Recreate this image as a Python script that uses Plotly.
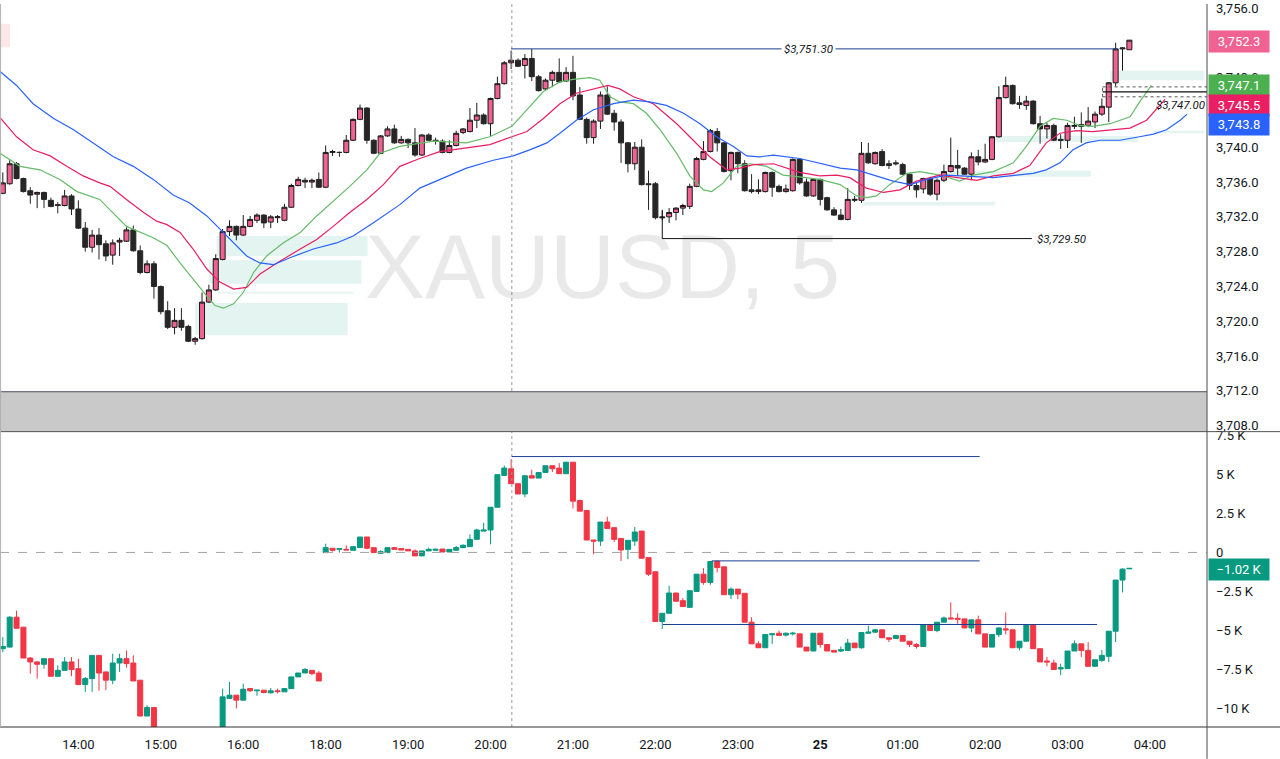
import plotly.graph_objects as go

# ---------------- data (5-minute bars, index 0 = 13:05) ----------------
bars = list(range(165))

price_open = [3734.7,3735.8,3738.1,3736.4,3735.0,3734.6,3734.8,3733.9,3733.4,3733.3,
 3734.4,3732.9,3730.7,3728.5,3729.9,3728.9,3727.6,3729.1,3729.2,3730.5,
 3728.1,3725.6,3726.6,3724.0,3721.2,3719.3,3720.1,3719.4,3717.7,3718.0,
 3722.2,3723.6,3727.1,3730.3,3730.9,3729.9,3730.9,3731.6,3732.2,3731.4,
 3731.9,3731.6,3733.1,3735.6,3736.2,3736.0,3736.3,3735.4,3739.4,3739.4,
 3739.4,3740.8,3743.2,3744.5,3740.8,3739.3,3741.3,3742.1,3740.5,3740.9,
 3740.5,3739.1,3741.4,3740.8,3740.7,3739.4,3740.2,3741.7,3741.8,3743.1,
 3743.7,3742.7,3745.6,3747.3,3749.7,3750.0,3749.4,3750.2,3748.1,3746.7,
 3747.7,3748.6,3747.6,3748.6,3746.0,3743.2,3741.1,3743.0,3746.0,3743.9,
 3742.9,3740.5,3738.1,3740.0,3735.8,3735.8,3732.0,3732.0,3732.5,3733.0,
 3733.2,3735.5,3738.6,3739.5,3741.8,3740.5,3737.3,3739.4,3738.1,3735.1,
 3734.9,3734.9,3737.1,3735.5,3734.9,3735.0,3738.6,3736.0,3734.4,3736.3,
 3734.2,3732.8,3732.2,3731.7,3733.9,3733.9,3739.3,3738.1,3739.5,3738.1,
 3738.2,3738.0,3736.9,3735.6,3735.2,3736.4,3734.6,3736.2,3737.2,3737.9,
 3737.6,3736.9,3738.9,3738.3,3738.6,3741.2,3745.7,3747.1,3745.1,3744.8,
 3745.3,3742.7,3742.1,3742.5,3740.9,3740.8,3742.4,3742.6,3742.5,3742.9,
 3743.8,3744.6,3747.4,3751.3,3751.2]
price_high = [3737.1,3738.5,3738.3,3736.5,3735.4,3734.9,3734.9,3734.2,3733.7,3735.1,
 3734.6,3733.9,3731.4,3730.5,3730.7,3729.3,3729.4,3729.6,3730.8,3731.0,
 3728.7,3727.0,3726.9,3724.1,3722.3,3721.5,3721.5,3719.6,3718.2,3723.3,
 3724.2,3727.7,3730.6,3731.6,3731.0,3732.2,3732.1,3732.4,3732.3,3732.2,
 3732.2,3733.5,3735.8,3736.6,3736.5,3736.4,3737.1,3740.2,3739.7,3739.5,
 3741.4,3743.3,3744.9,3744.6,3740.9,3741.4,3742.4,3742.6,3741.3,3741.0,
 3742.2,3741.5,3741.6,3741.1,3740.9,3740.8,3741.9,3742.2,3744.5,3745.1,
 3743.9,3745.7,3748.1,3749.9,3751.1,3750.2,3750.7,3751.3,3748.3,3747.9,
 3748.8,3750.2,3749.2,3750.5,3746.9,3743.4,3743.2,3746.4,3747.0,3744.3,
 3743.2,3740.6,3740.6,3740.9,3737.3,3736.0,3732.7,3733.0,3733.1,3733.5,
 3735.8,3738.9,3740.7,3742.1,3742.2,3740.6,3739.5,3739.5,3738.5,3736.9,
 3736.3,3737.2,3737.2,3735.7,3735.7,3738.7,3738.7,3736.4,3736.4,3736.4,
 3734.3,3733.1,3732.9,3735.3,3734.4,3740.6,3740.5,3739.5,3739.8,3738.5,
 3738.5,3738.2,3737.0,3735.9,3736.5,3736.6,3736.4,3738.0,3741.1,3739.7,
 3737.7,3739.4,3739.7,3740.4,3741.3,3747.0,3748.1,3747.2,3745.9,3745.9,
 3745.4,3743.6,3742.8,3742.7,3741.5,3742.8,3743.5,3744.0,3744.6,3744.1,
 3745.6,3747.5,3752.0,3751.5,3752.3]
price_low = [3734.6,3735.7,3736.3,3734.8,3733.5,3733.0,3733.0,3733.1,3732.4,3733.2,
 3732.2,3730.6,3728.0,3727.9,3727.1,3726.9,3726.5,3727.5,3729.1,3728.0,
 3725.4,3725.5,3722.6,3720.8,3719.1,3718.5,3718.9,3717.6,3717.3,3717.9,
 3722.1,3723.5,3727.0,3729.8,3729.3,3729.8,3730.8,3731.3,3730.7,3730.7,
 3731.3,3731.5,3733.0,3735.5,3735.3,3735.3,3735.3,3735.3,3739.0,3738.9,
 3739.3,3740.7,3743.1,3740.4,3739.2,3739.2,3741.2,3740.4,3740.4,3739.9,
 3738.9,3739.0,3740.7,3740.3,3739.3,3739.3,3740.1,3741.5,3741.7,3742.2,
 3742.6,3741.3,3745.5,3747.2,3749.0,3749.2,3747.9,3747.6,3746.4,3746.5,
 3746.9,3747.4,3747.5,3745.4,3743.1,3740.4,3740.4,3742.1,3743.7,3741.9,
 3738.2,3737.1,3737.4,3735.6,3732.8,3731.7,3731.6,3731.3,3731.6,3732.2,
 3732.9,3735.4,3738.5,3739.4,3739.5,3737.1,3736.2,3737.0,3734.9,3734.7,
 3734.6,3734.8,3734.3,3734.8,3734.8,3734.9,3735.7,3734.3,3734.3,3733.3,
 3732.7,3732.1,3731.6,3731.6,3733.7,3733.6,3738.1,3738.0,3737.8,3737.5,
 3737.9,3736.8,3735.1,3734.2,3734.7,3734.4,3733.9,3736.0,3737.1,3736.7,
 3736.8,3736.2,3737.9,3738.2,3738.5,3741.1,3745.6,3744.9,3744.4,3744.3,
 3742.6,3740.4,3741.0,3740.7,3739.8,3739.9,3742.1,3740.5,3742.3,3742.2,
 3743.6,3742.9,3747.0,3748.8,3751.2]
price_close = [3735.9,3738.1,3736.4,3734.9,3734.5,3734.8,3734.0,3733.2,3733.3,3734.4,
 3732.9,3730.7,3728.5,3729.9,3728.8,3727.5,3729.0,3729.3,3730.5,3728.1,
 3725.6,3726.6,3724.0,3721.1,3719.3,3720.1,3719.3,3717.7,3718.0,3722.2,
 3723.6,3727.2,3730.3,3730.9,3729.9,3730.9,3731.7,3732.2,3731.3,3732.0,
 3732.0,3733.1,3735.6,3736.3,3736.0,3736.2,3735.4,3739.4,3739.5,3739.4,
 3740.8,3743.2,3744.5,3740.8,3739.3,3741.3,3742.1,3740.5,3740.9,3740.5,
 3739.1,3741.4,3740.8,3740.7,3739.4,3740.2,3741.6,3742.1,3743.1,3743.7,
 3742.7,3745.6,3747.3,3749.7,3750.0,3749.3,3750.2,3748.1,3746.5,3747.7,
 3748.6,3747.5,3748.6,3745.9,3743.2,3741.1,3743.0,3746.0,3743.8,3742.9,
 3740.5,3738.1,3740.0,3735.7,3735.7,3731.9,3731.9,3732.5,3733.0,3733.3,
 3735.5,3738.7,3739.5,3741.9,3740.5,3737.2,3739.4,3738.1,3735.0,3734.9,
 3735.1,3737.1,3735.4,3734.9,3735.2,3738.6,3735.9,3734.4,3736.3,3734.0,
 3732.8,3732.2,3731.7,3734.0,3734.0,3739.3,3738.2,3739.4,3737.9,3737.9,
 3738.1,3736.9,3735.6,3735.1,3736.4,3734.6,3736.2,3737.2,3737.9,3737.6,
 3736.9,3738.9,3738.3,3738.6,3741.2,3745.7,3747.1,3745.0,3744.9,3745.3,
 3742.7,3742.1,3742.5,3740.8,3740.8,3742.5,3742.5,3742.4,3743.0,3743.8,
 3744.7,3747.4,3751.3,3751.4,3752.3]

N = None
delta_open = [-6.17,-6.07,-4.15,-4.79,-6.77,-7.02,-7.17,-6.81,-7.94,-7.56,
 -7.02,-7.45,-8.47,-8.09,-6.60,-7.66,-8.19,-7.09,-6.81,-7.09,
 -8.19,-10.49,-9.94,N,N,N,N,N,N,N,
 N,N,-12.0,-9.36,-9.15,-9.47,-8.73,-8.87,-8.83,-9.00,
 -8.87,-8.94,-8.73,-7.98,-7.73,-7.56,-7.73,-0.01,0.27,0.20,
 0.20,0.14,0.31,0.99,0.31,-0.05,-0.01,0.31,0.25,0.20,
 0.10,-0.22,0.10,0.14,0.22,0.03,0.14,0.31,0.37,0.84,
 1.37,1.44,2.90,4.94,5.37,4.41,3.75,4.92,4.77,5.13,
 5.56,5.41,5.05,5.79,3.33,2.69,0.80,0.73,1.95,1.59,
 0.90,0.20,0.73,1.37,-0.33,-1.24,-4.43,-3.90,-2.60,-3.09,
 -3.52,-2.50,-1.39,-1.92,-0.58,-0.92,-2.71,-2.35,-2.62,-4.47,
 -5.86,-6.11,-5.28,-5.18,-5.30,-5.22,-5.22,-6.07,-6.32,-5.18,
 -5.90,-6.28,-6.32,-6.28,-5.81,-6.11,-5.18,-5.11,-4.96,-5.47,
 -5.52,-5.32,-5.69,-5.90,-6.03,-4.62,-5.01,-4.47,-4.20,-4.22,
 -4.26,-4.84,-4.32,-5.22,-6.07,-5.26,-4.90,-4.96,-6.11,-5.69,
 -4.62,-6.17,-6.96,-7.09,-7.47,-7.45,-6.32,-5.86,-6.28,-7.30,
 -6.92,-6.66,-5.05,-1.77,-1.05]
delta_high = [-5.43,-4.09,-3.73,-4.79,-6.71,-6.98,-6.81,-6.81,-7.24,-6.71,
 -6.71,-6.81,-7.98,-6.60,-6.60,-7.66,-6.49,-6.49,-6.28,-6.60,
 -8.19,-9.79,-9.94,N,N,N,N,N,N,N,
 N,N,-8.73,-8.30,-9.15,-8.41,-8.69,-8.83,-8.83,-8.69,
 -8.73,-8.73,-7.98,-7.73,-7.41,-7.56,-7.60,0.56,0.27,0.25,
 0.46,0.41,0.99,0.99,0.31,0.14,0.31,0.31,0.25,0.20,
 0.20,0.10,0.31,0.25,0.22,0.20,0.41,0.52,1.16,1.52,
 1.90,2.90,4.99,5.58,5.99,4.41,4.92,5.30,5.13,5.56,
 5.56,5.73,5.79,5.79,3.39,2.69,0.80,1.95,2.29,1.59,
 0.90,0.78,1.63,1.37,-0.33,-1.24,-3.90,-2.14,-2.60,-2.92,
 -2.45,-1.39,-1.01,-0.58,-0.50,-0.92,-2.24,-2.35,-2.62,-4.15,
 -5.69,-5.26,-5.22,-5.01,-5.13,-5.09,-5.22,-6.07,-5.18,-5.18,
 -5.90,-6.28,-6.03,-5.54,-5.81,-5.13,-4.69,-4.90,-4.96,-5.47,
 -5.32,-5.32,-5.69,-5.81,-4.62,-4.62,-4.47,-4.11,-3.20,-3.90,
 -4.26,-4.32,-4.05,-5.22,-5.26,-4.79,-3.84,-4.96,-5.69,-4.62,
 -4.62,-6.17,-6.71,-6.88,-7.13,-6.32,-5.64,-5.86,-5.75,-6.88,
 -6.24,-5.05,-1.77,-1.01,-1.00]
delta_low = [-6.39,-6.07,-4.86,-6.77,-7.77,-8.09,-7.45,-7.94,-7.94,-7.56,
 -7.94,-8.47,-8.94,-8.94,-8.87,-8.83,-8.45,-7.66,-7.39,-8.24,
 -10.49,-10.49,-12.0,N,N,N,N,N,N,N,
 N,N,-12.0,-9.36,-10.0,-9.47,-8.94,-9.19,-9.04,-9.04,
 -9.04,-8.94,-8.73,-7.98,-7.73,-7.87,-8.24,-0.01,0.05,-0.01,
 0.16,0.14,0.31,0.20,-0.01,-0.07,-0.01,0.20,0.16,0.10,
 -0.22,-0.22,0.10,0.10,0.03,0.03,0.14,0.27,0.37,0.84,
 1.37,0.52,2.90,4.94,4.41,3.75,3.54,4.77,4.77,5.13,
 5.16,5.05,5.05,2.82,2.65,0.80,-0.12,0.42,1.54,0.67,
 -0.54,-0.43,0.42,-0.37,-1.50,-4.43,-4.90,-3.90,-3.13,-3.47,
 -3.52,-2.50,-2.07,-2.07,-1.28,-2.71,-2.99,-2.99,-4.47,-5.86,
 -6.11,-6.11,-5.86,-5.32,-5.39,-5.32,-6.07,-6.32,-6.32,-6.11,
 -6.32,-6.39,-6.39,-6.28,-6.11,-6.17,-5.18,-5.15,-5.47,-5.75,
 -5.52,-5.69,-6.07,-6.17,-6.03,-5.01,-5.11,-4.47,-4.26,-4.58,
 -4.84,-5.11,-5.22,-6.07,-6.07,-5.43,-5.26,-6.11,-6.28,-5.69,
 -6.17,-7.02,-7.30,-7.51,-7.87,-7.45,-6.32,-6.71,-7.30,-7.30,
 -7.02,-7.02,-5.75,-2.56,-1.05]
delta_close = [-6.03,-4.15,-4.86,-6.77,-7.02,-7.17,-6.81,-7.94,-7.56,-7.02,
 -7.51,-8.47,-8.09,-6.60,-7.73,-8.19,-7.09,-6.81,-7.13,-8.24,
 -10.49,-9.94,-12.0,N,N,N,N,N,N,N,
 N,N,-9.26,-9.15,-9.47,-8.77,-8.87,-8.83,-8.98,-8.87,
 -8.92,-8.73,-7.98,-7.73,-7.51,-7.77,-8.24,0.31,0.14,0.25,
 0.16,0.37,0.99,0.27,-0.01,0.05,0.31,0.20,0.16,0.10,
 -0.22,0.10,0.20,0.20,0.03,0.20,0.31,0.46,0.84,1.44,
 1.44,2.90,4.99,5.41,4.41,3.75,4.92,4.77,5.13,5.56,
 5.37,5.05,5.79,3.29,2.65,0.80,0.73,1.95,1.54,0.84,
 0.16,0.78,1.31,-0.37,-1.39,-4.43,-3.90,-2.60,-3.13,-3.47,
 -2.45,-1.39,-1.92,-0.58,-0.97,-2.71,-2.35,-2.67,-4.47,-5.86,
 -6.11,-5.26,-5.22,-5.32,-5.18,-5.18,-6.07,-6.32,-5.18,-5.90,
 -6.32,-6.39,-6.24,-5.81,-6.11,-5.13,-5.11,-4.96,-5.47,-5.56,
 -5.32,-5.69,-5.90,-6.03,-4.62,-5.01,-4.47,-4.20,-4.26,-4.28,
 -4.84,-4.32,-5.22,-6.07,-5.26,-4.84,-4.96,-6.11,-5.69,-4.62,
 -6.17,-7.02,-7.02,-7.51,-7.39,-6.32,-5.86,-6.28,-7.30,-6.88,
 -6.60,-5.05,-1.77,-1.07,-1.02]

# Alligator-style moving averages (bar position, price)
lips_bar = [-0.4,2.5,5.4,8.3,10.8,14.1,15.6,18.0,21.9,23.9,25.8,27.7,29.7,30.9,32.1,33.6,35.0,36.5,38.4,40.8,
 43.3,45.7,48.1,50.5,53.0,54.9,57.8,62.7,67.5,70.9,74.1,76.3,78.7,81.1,83.0,85.5,86.9,88.4,89.8,91.8,
 93.7,95.7,98.1,100.0,102.0,103.2,104.9,106.8,108.8,111.2,113.6,116.0,118.9,121.9,124.3,125.8,127.2,129.1,131.6,133.5,
 136.4,139.3,141.3,144.2,147.1,149.0,151.0,152.9,154.9,156.8,158.7,161.2,164.1,165.5,167.2]
lips_val = [3739.3,3737.8,3737.4,3736.3,3734.9,3734.0,3732.8,3730.9,3729.6,3728.7,3726.7,3724.8,3722.9,3721.8,3721.5,3722.0,3723.3,3725.6,3727.5,3729.0,
 3730.2,3732.1,3733.8,3735.5,3737.4,3739.3,3740.1,3740.7,3740.5,3741.2,3742.4,3744.3,3746.4,3747.5,3747.8,3748.0,3747.7,3745.8,3745.2,3745.0,
 3743.9,3742.0,3739.3,3736.7,3735.1,3734.9,3735.9,3737.8,3738.1,3737.8,3736.8,3736.6,3736.3,3735.7,3734.4,3734.2,3734.4,3735.7,3737.0,3737.2,
 3736.8,3736.1,3736.8,3737.2,3738.2,3740.1,3742.4,3743.3,3743.1,3742.5,3742.4,3742.7,3743.5,3745.2,3747.1]

teeth_bar = [-0.4,2.0,4.4,6.9,9.3,11.7,14.1,15.6,18.0,20.5,22.4,23.9,25.8,27.7,29.7,31.6,33.6,35.5,37.4,39.9,
 43.3,45.7,48.1,50.5,53.0,55.4,57.8,60.7,63.6,67.5,70.9,74.1,76.3,78.7,81.1,83.5,86.0,88.1,89.8,91.8,
 94.7,98.1,100.5,102.9,105.4,107.3,109.3,112.2,116.0,118.9,121.4,123.3,125.7,128.2,130.6,133.0,136.4,139.3,141.8,144.2,
 147.1,149.5,151.9,153.9,156.3,158.7,161.7,164.1,166.5,168.0,169.2]
teeth_val = [3743.4,3741.2,3739.7,3739.0,3737.8,3736.7,3735.9,3735.5,3734.0,3732.5,3731.5,3731.1,3730.2,3728.3,3726.0,3724.5,3723.7,3723.9,3725.4,3726.7,
 3728.3,3729.4,3730.9,3732.5,3734.0,3735.7,3737.8,3738.7,3739.5,3739.9,3740.3,3741.2,3741.8,3743.3,3745.0,3746.2,3746.7,3747.1,3746.7,3745.8,
 3745.0,3742.7,3740.8,3738.9,3737.4,3737.6,3738.0,3738.1,3737.1,3736.7,3736.8,3736.5,3735.3,3734.8,3735.1,3736.1,3736.8,3736.5,3736.2,3736.7,
 3737.0,3737.9,3740.5,3741.6,3741.9,3741.8,3742.0,3742.2,3743.1,3744.5,3745.5]

jaw_bar = [-0.4,2.0,4.4,7.4,10.3,13.2,16.1,19.0,21.9,24.8,27.2,29.7,32.6,35.5,37.4,39.4,41.8,45.2,48.6,51.0,
 53.9,57.8,60.7,63.6,67.5,71.4,74.3,76.7,79.2,81.1,83.5,86.0,88.9,91.8,94.2,96.6,99.1,101.5,103.9,106.3,
 108.3,110.2,112.2,116.0,118.9,121.9,124.3,126.7,129.6,132.1,134.5,137.4,140.3,144.2,147.6,150.0,151.9,153.9,155.8,157.7,
 159.7,162.6,165.5,167.5,169.4,171.4,172.4]
jaw_val = [3748.7,3747.1,3745.0,3743.3,3742.0,3740.5,3738.9,3737.8,3736.3,3734.5,3733.6,3732.1,3729.8,3727.5,3726.7,3726.5,3727.3,3728.3,3729.0,3729.8,
 3731.3,3733.4,3735.3,3736.3,3737.6,3738.5,3739.0,3739.7,3740.5,3741.6,3743.1,3744.3,3745.0,3745.4,3745.2,3744.8,3743.9,3742.7,3741.2,3740.1,
 3739.0,3738.9,3739.1,3738.7,3738.2,3737.6,3737.4,3736.8,3736.1,3735.7,3736.3,3736.8,3736.7,3736.5,3736.8,3737.0,3737.4,3738.2,3739.7,3740.5,
 3740.8,3740.8,3741.2,3741.5,3742.0,3743.1,3743.8]

# tick labels
time_tick_bars = [11, 23, 35, 47, 59, 71, 83, 95, 107, 119, 131, 143, 155, 167]
time_tick_text = ["14:00", "15:00", "16:00", "18:00", "19:00", "20:00", "21:00", "22:00",
                  "23:00", "<b>25</b>", "01:00", "02:00", "03:00", "04:00"]
# (3,752 and 3,744 are covered by the live price tags in the original, so they are not listed)
price_ticks = [3708, 3712, 3716, 3720, 3724, 3728, 3732, 3736, 3740, 3748, 3756]
delta_ticks = [-10, -7.5, -5, -2.5, 0, 2.5, 5, 7.5]
delta_tick_text = ["\u221210 K", "\u22127.5 K", "\u22125 K", "\u22122.5 K", "0", "2.5 K", "5 K", "7.5 K"]

# drawings (levels / zones in data units)
swing_high = 3751.30
swing_high_span = (74, 162.2)
swing_low = 3729.50
swing_low_span = (96, 149.8)
swing_low_anchor = 3732.8
level_3747 = [3746.93, 3746.37, 3745.79]
level_3747_start = 160.1
zones = [  # (bar0, bar1, price0, price1)
    (31.1, 53.1, 3727.5, 3729.8),
    (30.0, 52.2, 3724.3, 3727.0),
    (31.3, 51.1, 3723.2, 3723.4),
    (28.0, 50.2, 3718.4, 3722.1),
    (161.2, 174.9, 3747.7, 3748.8),
    (143.3, 165.2, 3740.6, 3741.3),
    (167.4, 174.9, 3741.6, 3741.9),
    (137.2, 158.4, 3736.6, 3737.3),
    (125.2, 144.4, 3733.3, 3733.7),
]
pink_zone = (-0.4, 1.05, 3751.5, 3754.2)
delta_levels = [(6.15, 74.1, 142.2), (-0.54, 103.2, 142.2), (-4.62, 96.1, 159.3)]
crosshair_bar = 74.1

last_price = 3752.3
lips_last, teeth_last, jaw_last = 3747.1, 3745.5, 3743.8
delta_last = -1.02

# ---------------- figure ----------------
W, H = 1280, 759
PLOT_W, PLOT_H = 1207, 727
split = 1 - 430 / PLOT_H          # boundary of the two panes (paper units)
FONT = "Roboto, Liberation Sans, sans-serif"
TXT = "#131722"
NAVY = "#1c3f94"

fig = go.Figure()

fig.add_trace(go.Candlestick(
    x=bars, open=price_open, high=price_high, low=price_low, close=price_close,
    xaxis="x", yaxis="y", whiskerwidth=0,
    increasing=dict(fillcolor="#f06292", line=dict(color="#1a1a1a", width=1)),
    decreasing=dict(fillcolor="#262626", line=dict(color="#262626", width=1)),
    hoverinfo="skip", showlegend=False))

for bx, vy, col in [(lips_bar, lips_val, "#66bb6a"), (teeth_bar, teeth_val, "#e91e63"),
                    (jaw_bar, jaw_val, "#2962ff")]:
    fig.add_trace(go.Scatter(x=bx, y=vy, mode="lines", line=dict(color=col, width=1.2),
                             xaxis="x", yaxis="y", hoverinfo="skip", showlegend=False))

fig.add_trace(go.Candlestick(
    x=bars, open=delta_open, high=delta_high, low=delta_low, close=delta_close,
    xaxis="x", yaxis="y2", whiskerwidth=0,
    increasing=dict(fillcolor="#089981", line=dict(color="#089981", width=1)),
    decreasing=dict(fillcolor="#f23645", line=dict(color="#f23645", width=1)),
    hoverinfo="skip", showlegend=False))

shapes = []
for b0, b1, p0, p1 in zones:
    shapes.append(dict(type="rect", xref="x", yref="y", x0=b0, x1=b1, y0=p0, y1=p1,
                       fillcolor="rgba(8,153,129,0.11)", line=dict(width=0), layer="below"))
shapes.append(dict(type="rect", xref="x", yref="y", x0=pink_zone[0], x1=pink_zone[1],
                   y0=pink_zone[2], y1=pink_zone[3], fillcolor="rgba(242,54,69,0.12)",
                   line=dict(width=0), layer="below"))
# dotted vertical marker
shapes.append(dict(type="line", xref="x", yref="paper", x0=crosshair_bar, x1=crosshair_bar,
                   y0=0, y1=1, line=dict(color="#9598a1", width=1, dash="dot")))
# zero line of lower pane
shapes.append(dict(type="line", xref="paper", yref="y2", x0=0, x1=1, y0=0, y1=0,
                   line=dict(color="#a6a6a6", width=1, dash="dash")))
# swing high / low levels
shapes.append(dict(type="line", xref="x", yref="y", x0=swing_high_span[0], x1=swing_high_span[1],
                   y0=swing_high, y1=swing_high, line=dict(color=NAVY, width=1)))
shapes.append(dict(type="line", xref="x", yref="y", x0=swing_low_span[0], x1=swing_low_span[1],
                   y0=swing_low, y1=swing_low, line=dict(color="#111111", width=1)))
shapes.append(dict(type="line", xref="x", yref="y", x0=swing_low_span[0], x1=swing_low_span[0],
                   y0=swing_low_anchor, y1=swing_low, line=dict(color="#111111", width=1)))
# 3747 level cluster
shapes.append(dict(type="line", xref="x", yref="y", x0=level_3747_start, x1=175.4,
                   y0=level_3747[0], y1=level_3747[0], line=dict(color="#555", width=1, dash="dot")))
shapes.append(dict(type="line", xref="x", yref="y", x0=level_3747_start, x1=175.4,
                   y0=level_3747[2], y1=level_3747[2], line=dict(color="#555", width=1, dash="dot")))
shapes.append(dict(type="line", xref="x", yref="y", x0=level_3747_start, x1=175.4,
                   y0=level_3747[1], y1=level_3747[1], line=dict(color="#111", width=1.2)))
shapes.append(dict(type="line", xref="x", yref="y", x0=level_3747_start, x1=level_3747_start,
                   y0=level_3747[2], y1=level_3747[0], line=dict(color="#555", width=1, dash="dot")))
# lower-pane levels
for lvl, b0, b1 in delta_levels:
    shapes.append(dict(type="line", xref="x", yref="y2", x0=b0, x1=b1, y0=lvl, y1=lvl,
                       line=dict(color=NAVY, width=1)))
# pane separator band and frame
band_top = 1 - 391 / PLOT_H
shapes.append(dict(type="rect", xref="paper", yref="paper", x0=0, x1=1, y0=split, y1=band_top,
                   fillcolor="#c9c9c9", line=dict(width=0), layer="above"))
shapes.append(dict(type="line", xref="paper", yref="paper", x0=0, x1=1,
                   y0=1 - 390 / PLOT_H, y1=1 - 390 / PLOT_H, line=dict(color="#2a2e39", width=1)))
shapes.append(dict(type="line", xref="paper", yref="paper", x0=0, x1=W / PLOT_W,
                   y0=split, y1=split, line=dict(color="#555555", width=1)))
shapes.append(dict(type="line", xref="paper", yref="paper", x0=0, x1=W / PLOT_W,
                   y0=0, y1=0, line=dict(color="#333333", width=1)))
shapes.append(dict(type="line", xref="paper", yref="paper", x0=1, x1=1,
                   y0=-(H - PLOT_H) / PLOT_H, y1=1, line=dict(color="#4a4a4a", width=1)))
shapes.append(dict(type="line", xref="paper", yref="paper", x0=0.0005, x1=0.0005,
                   y0=0, y1=1, line=dict(color="#b0b0b0", width=1)))

annotations = [
    dict(text="XAUUSD, 5", xref="paper", yref="paper", x=602 / PLOT_W, y=1 - 212 / PLOT_H,
         showarrow=False, font=dict(family="Liberation Sans, Arial, sans-serif", size=90,
                                    color="rgba(0,0,0,0.085)")),
    dict(text="<i>$3,751.30</i>", xref="x", yref="y", x=117.3, y=swing_high, showarrow=False,
         bgcolor="white", borderpad=2, font=dict(family=FONT, size=11.5, color=TXT)),
    dict(text="<i>$3,729.50</i>", xref="x", yref="y", x=swing_low_span[1] + 0.5, y=swing_low,
         xanchor="left", showarrow=False, font=dict(family=FONT, size=11.5, color=TXT)),
    dict(text="<i>$3,747.00</i>", xref="paper", yref="y", x=1.0, y=3744.8, xanchor="right",
         showarrow=False, font=dict(family=FONT, size=11.5, color=TXT)),
]


def price_tag(text, yref, y, bg):
    return dict(text=text, xref="paper", yref=yref, x=1, y=y, xanchor="left", xshift=1,
                showarrow=False, bgcolor=bg, width=58, height=19, align="center", borderpad=1,
                font=dict(family=FONT, size=13, color="white"))


annotations += [
    price_tag("3,752.3", "y", last_price - 0.2, "#f06292"),
    price_tag("3,747.1", "y", lips_last, "#4caf50"),
    price_tag("3,745.5", "y", teeth_last - 0.7, "#e91e63"),
    price_tag("3,743.8", "y", jaw_last - 1.17, "#2962ff"),
    price_tag("\u22121.02 K", "y2", delta_last - 0.05, "#089981"),
]

y_main_lo = 3740 - (430 - 144) / 8.75
y_main_hi = 3740 + 144 / 8.75
y2_lo = (551.5 - 727) / 15.68
y2_hi = (551.5 - 430) / 15.68

fig.update_layout(
    width=W, height=H, margin=dict(l=0, r=W - PLOT_W, t=0, b=H - PLOT_H),
    paper_bgcolor="white", plot_bgcolor="white", showlegend=False, hovermode=False,
    font=dict(family=FONT, color=TXT, size=12),
    boxgap=0.27, boxgroupgap=0,
    xaxis=dict(range=[-0.41, 175.3], anchor="y2", tickmode="array", tickvals=time_tick_bars,
               ticktext=time_tick_text, showgrid=False, zeroline=False, showline=False,
               ticks="", rangeslider=dict(visible=False), fixedrange=True,
               tickfont=dict(size=13, color=TXT), ticklabelstandoff=8),
    yaxis=dict(domain=[split, 1], range=[y_main_lo, y_main_hi], side="right", anchor="x",
               tickmode="array", tickvals=price_ticks, tickformat=",.1f", showgrid=False,
               zeroline=False, showline=False, ticks="", tickfont=dict(size=13, color=TXT),
               ticklabelstandoff=8),
    yaxis2=dict(domain=[0, split], range=[y2_lo, y2_hi], side="right", anchor="x",
                tickmode="array", tickvals=delta_ticks, ticktext=delta_tick_text,
                showgrid=False, zeroline=False, showline=False, ticks="",
                tickfont=dict(size=13, color=TXT), ticklabelstandoff=8),
    shapes=shapes, annotations=annotations,
)

fig.write_html(
    "out.html",
    config={"displayModeBar": False, "staticPlot": True},
    post_script="document.body.style.margin='0';document.body.style.padding='0';"
                "document.body.style.overflow='hidden';",
)
